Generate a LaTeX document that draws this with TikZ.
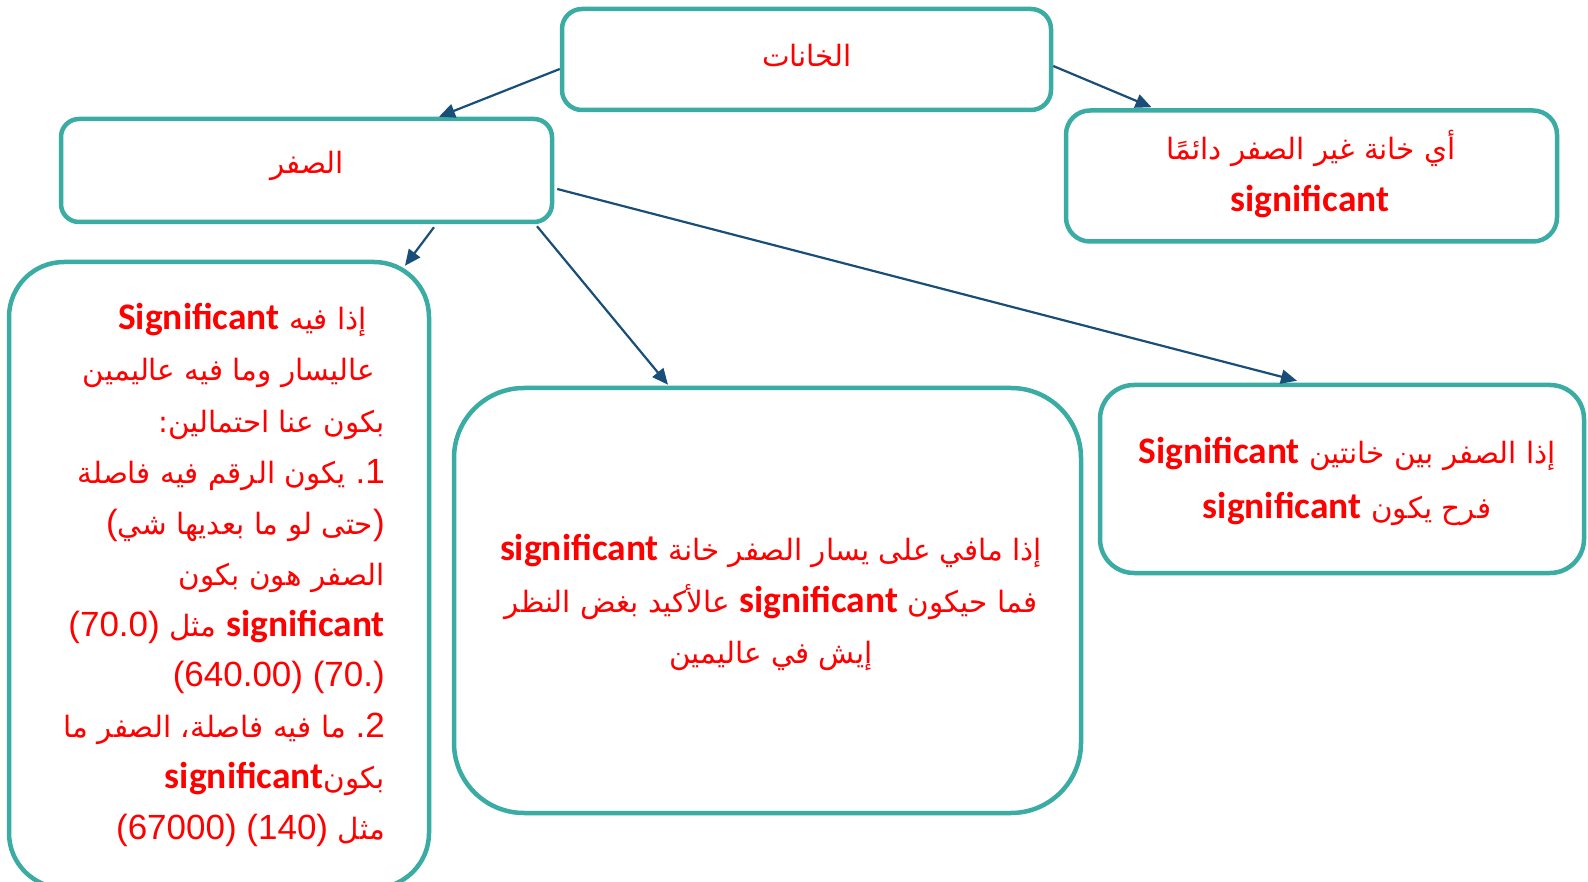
\documentclass[tikz,border=0pt]{standalone}
\usepackage{fontspec}
\setmainfont{Liberation Sans}
\newfontfamily\arabicfont[Script=Arabic,Scale=0.84]{DejaVu Sans}
\newfontfamily\sigfont[Scale=1.07]{Carlito}
\TeXXeTstate=1
\usetikzlibrary{arrows.meta,calc}
\definecolor{boxc}{RGB}{58,172,164}
\definecolor{arrc}{RGB}{24,78,119}
\definecolor{redc}{RGB}{255,0,0}
\newcommand\AR[1]{{\arabicfont\beginR #1\endR}}
\newcommand\SG[1]{{\sigfont\bfseries #1}}
\begin{document}
\begin{tikzpicture}[x=1pt,y=-1pt,
  box/.style={draw=boxc,line width=4.5pt,inner sep=0pt,fill=none},
  txt/.style={text=redc,font=\fontsize{35}{42}\selectfont,inner sep=0pt},
  arr/.style={draw=arrc,line width=2.2pt,-{Triangle[length=16pt,width=14pt]}}]
\useasboundingbox (0,0) rectangle (1588,882);
% boxes
\node[box,rounded corners=20pt,minimum width=489pt,minimum height=101pt] (top) at (806.5,59.5) {};
\node[box,rounded corners=18pt,minimum width=491pt,minimum height=103pt] (zero) at (306.5,170.5) {};
\node[box,rounded corners=24pt,minimum width=491pt,minimum height=131pt] (rtop) at (1311.5,176) {};
\node[box,rounded corners=55pt,minimum width=420pt,minimum height=626pt] (left) at (219,575) {};
\node[box,rounded corners=70pt,minimum width=627pt,minimum height=425pt] (mid) at (767.5,600.5) {};
\node[box,rounded corners=34pt,minimum width=484pt,minimum height=188pt] (rlow) at (1342,479) {};
% texts
\node[txt,anchor=base] (ttop) at (807,67) {\AR{الخانات}};
\node[txt,anchor=base] (tzero) at (307,174) {\AR{الصفر}};
\node[txt,anchor=base] (trt1) at (1311,160) {\AR{أي خانة غير الصفر دائمًا}};
\node[txt,anchor=base] (trt2) at (1310,212) {\SG{significant}};
% left box lines
\node[txt,anchor=base east] (l1) at (367,330) {\SG{Significant} \AR{إذا فيه}};
\node[txt,anchor=base east] (l2) at (375,381) {\AR{عاليسار وما فيه عاليمين}};
\node[txt,anchor=base east] (l3) at (385,432) {\AR{بكون عنا احتمالين:}};
\node[txt,anchor=base east] (l4) at (385,483) {\AR{يكون الرقم فيه فاصلة} .1};
\node[txt,anchor=base east] (l5) at (385,534) {(\AR{حتى لو ما بعديها شي})};
\node[txt,anchor=base east] (l6) at (385,585) {\AR{الصفر هون بكون}};
\node[txt,anchor=base east] (l7) at (385,636) {(70.0) \AR{مثل} \SG{significant}};
\node[txt,anchor=base east] (l8) at (385,686) {(640.00) (70.)};
\node[txt,anchor=base east] (l9) at (385,737) {\AR{ما فيه فاصلة، الصفر ما} .2};
\node[txt,anchor=base east] (l10) at (385,788) {\SG{significant}\AR{بكون}};
\node[txt,anchor=base east] (l11) at (385,839) {(67000) (140) \AR{مثل}};
% middle box lines
\node[txt,anchor=base] (m1) at (771,560) {\SG{significant} \AR{إذا مافي على يسار الصفر خانة}};
\node[txt,anchor=base] (m2) at (771,612) {\AR{عالأكيد بغض النظر} \SG{significant} \AR{فما حيكون}};
\node[txt,anchor=base] (m3) at (771,663) {\AR{إيش في عاليمين}};
% right lower box lines
\node[txt,anchor=base] (r1) at (1347,464) {\SG{Significant} \AR{إذا الصفر بين خانتين}};
\node[txt,anchor=base] (r2) at (1347,518) {\SG{significant} \AR{فرح يكون}};
% arrows
\draw[arr] ([yshift=-9.5pt]top.west) -- ([xshift=132.5pt]zero.north);
\draw[arr] ([yshift=-6.5pt]top.east) -- ([xshift=-160pt,yshift=1pt]rtop.north);
\draw[arr] ([xshift=127.5pt,yshift=-3pt]zero.south) -- ([xshift=186pt,yshift=-6pt]left.north);
\draw[arr] ([xshift=230.5pt,yshift=-2pt]zero.south) -- ([xshift=-99.5pt,yshift=1pt]mid.north);
\draw[arr] ([xshift=3pt,yshift=-18.5pt]zero.east) -- ([xshift=-45pt,yshift=2pt]rlow.north);
\end{tikzpicture}
\end{document}
